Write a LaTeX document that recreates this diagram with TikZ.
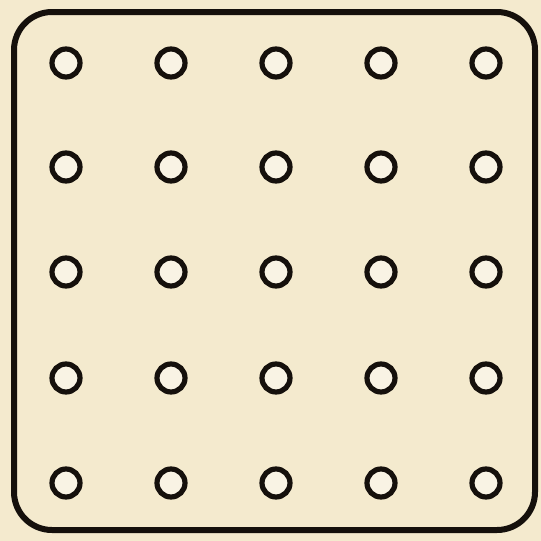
\documentclass[tikz,border=0pt]{standalone}
\definecolor{paper}{HTML}{F4EACE}
\definecolor{ink}{HTML}{15100C}
\tikzset{
  hole/.style={circle, draw=ink, line width=5.2pt, minimum size=28pt, inner sep=0pt, fill=paper!55!white},
  board/.style={draw=ink, line width=6pt, rounded corners=38pt}
}
\begin{document}
\begin{tikzpicture}[x=1pt,y=-1pt]
\fill[paper] (0,0) rectangle (541,541);
\useasboundingbox (0,0) rectangle (541,541);
\draw[board] (14,12) rectangle (535,530);
\foreach \i/\x in {1/66,2/171,3/276,4/381,5/486}{
  \foreach \j/\y in {1/63,2/167,3/272,4/378,5/483}{
    \node[hole] (h\i\j) at (\x,\y) {};
  }
}
\end{tikzpicture}
\end{document}
